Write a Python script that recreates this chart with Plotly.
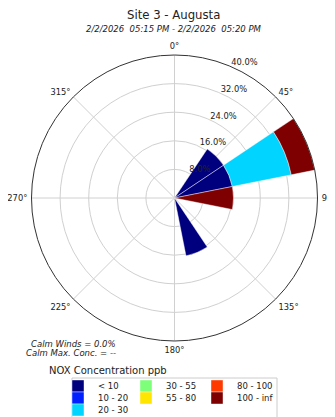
import plotly.graph_objects as go

# Wind direction sectors (degrees, compass)
directions = [45, 67.5, 90, 157.5]
bin_labels = ["< 10", "10 - 20", "20 - 30", "30 - 55", "55 - 80", "80 - 100", "100 - inf"]
bin_colors = ["#00007f", "#0020ff", "#00d4ff", "#7dff7a", "#ffe600", "#ff3a00", "#7f0000"]
# Frequency (%) per bin for each direction (stacked)
freq_lt10 = [16.5, 16.5, 0.0, 16.5]
freq_10_20 = [0.0, 0.0, 0.0, 0.0]
freq_20_30 = [0.0, 16.8, 0.0, 0.0]
freq_30_55 = [0.0, 0.0, 0.0, 0.0]
freq_55_80 = [0.0, 0.0, 0.0, 0.0]
freq_80_100 = [0.0, 0.0, 0.0, 0.0]
freq_100_inf = [0.0, 6.7, 16.5, 0.0]
radial_ticks = [8, 16, 24, 32, 40]
angle_ticks = [0, 45, 90, 135, 180, 225, 270, 315]

series = [freq_lt10, freq_10_20, freq_20_30, freq_30_55, freq_55_80, freq_80_100, freq_100_inf]

W, H = 335, 417
OFF = 8  # page body margin offset of the plot div
FONT = "DejaVu Sans"


def px(x):
    return (x - OFF) / W


def py(y):
    return 1 - (y - OFF) / H


# legend grid (column-major, 3 columns) in screen pixels: text-start x, row centre y
leg_cols = [99, 167, 238]
leg_rows = [386, 398, 410]
leg_slots = [(0, 0), (0, 1), (0, 2), (1, 0), (1, 1), (2, 0), (2, 1)]

fig = go.Figure()
legends = {}
for i, (lab, col, vals) in enumerate(zip(bin_labels, bin_colors, series)):
    key = "legend" if i == 0 else f"legend{i + 1}"
    c, r = leg_slots[i]
    fig.add_trace(go.Barpolar(
        r=vals, theta=directions, width=[22.5] * len(directions),
        name=lab, legend=key,
        marker=dict(color=col, line=dict(color="rgba(255,255,255,0.7)", width=0.6)),
    ))
    legends[key] = dict(
        x=px(leg_cols[c] - 41), xanchor="left", y=py(leg_rows[r]), yanchor="middle",
        borderwidth=0, bgcolor="rgba(0,0,0,0)",
        font=dict(size=8.5, color="#222"),
    )

fig.update_layout(
    width=W, height=H,
    margin=dict(l=0, r=0, t=0, b=0, autoexpand=False),
    paper_bgcolor="white",
    font=dict(family=FONT, size=9, color="#222"),
    polar=dict(
        domain=dict(x=[px(174.5 - 143), px(174.5 + 143)], y=[py(198 + 143), py(198 - 143)]),
        barmode="stack",
        bgcolor="white",
        angularaxis=dict(
            rotation=90, direction="clockwise",
            tickmode="array", tickvals=angle_ticks,
            ticktext=[f"{a}°" for a in angle_ticks],
            showline=True, linecolor="#333", linewidth=1,
            gridcolor="#d0d0d0", gridwidth=1,
            ticks="outside", ticklen=2, tickcolor="rgba(0,0,0,0)",
            tickfont=dict(size=8.3, color="#222"),
            layer="above traces",
        ),
        radialaxis=dict(
            range=[0, 40], tickmode="array", tickvals=radial_ticks,
            ticktext=[f"{v:.1f}%<br> " for v in radial_ticks],
            angle=68.5, tickangle=68.5, showline=False, ticks="",
            gridcolor="#d0d0d0", gridwidth=1,
            tickfont=dict(size=8.3, color="#222"),
            layer="above traces",
        ),
    ),
    showlegend=True,
    shapes=[
        dict(type="rect", xref="paper", yref="paper",
             x0=px(72), x1=px(277), y0=py(378), y1=-0.1,
             line=dict(color="#cccccc", width=1), fillcolor="white", layer="below"),
    ],
    annotations=[
        dict(text="Site 3 - Augusta", x=px(173.5), y=py(15), xref="paper", yref="paper",
             showarrow=False, font=dict(size=11.7, color="#222"), xanchor="center", yanchor="middle"),
        dict(text="<i>2/2/2026\u00a0 05:15 PM - 2/2/2026\u00a0 05:20 PM</i>", x=px(173.5), y=py(29),
             xref="paper", yref="paper", showarrow=False, font=dict(size=8.5, color="#222"),
             xanchor="center", yanchor="middle"),
        dict(text="<i>Calm Winds = 0.0%</i>", x=px(118), y=py(344), xref="paper", yref="paper",
             showarrow=False, font=dict(size=8.5, color="#222"), xanchor="right", yanchor="middle"),
        dict(text="<i>Calm Max. Conc. = --</i>", x=px(118), y=py(353), xref="paper", yref="paper",
             showarrow=False, font=dict(size=8.5, color="#222"), xanchor="right", yanchor="middle"),
        dict(text="NOX Concentration ppb", x=px(47), y=py(370), xref="paper", yref="paper",
             showarrow=False, font=dict(size=10, color="#222"), xanchor="left", yanchor="middle"),
    ],
)
fig.update_layout(**legends)

fig.write_html("out.html")
